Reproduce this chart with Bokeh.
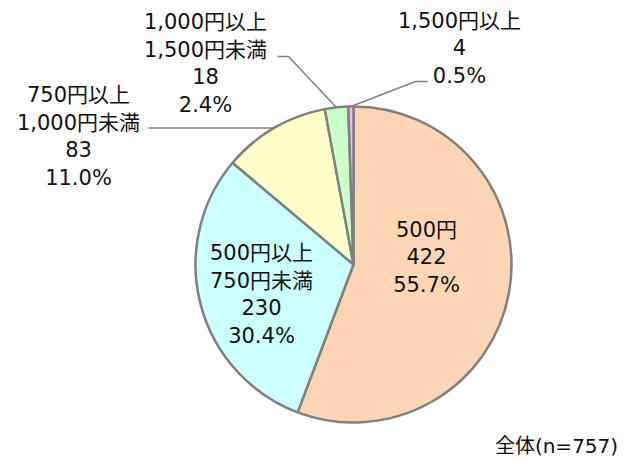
import math
from bokeh.plotting import figure
from bokeh.models import Range1d, ColumnDataSource
from bokeh.core.properties import value
from bokeh.embed import file_html
from bokeh.resources import INLINE

# ---- data ----
categories = ["500円", "500円以上\n750円未満", "750円以上\n1,000円未満",
              "1,000円以上\n1,500円未満", "1,500円以上"]
counts = [422, 230, 83, 18, 4]
colors = ["#FCD5B5", "#CCFFFF", "#FFFFCC", "#CCFFCC", "#F2B8F2"]
total_label = "全体(n=757)"

W, H = 630, 462
FONT = "DejaVu Sans, Noto Sans CJK JP"

p = figure(width=W, height=H, x_range=Range1d(0, W), y_range=Range1d(0, H),
           output_backend="svg", toolbar_location=None, min_border=0)
p.axis.visible = False
p.grid.visible = False
p.outline_line_color = None
p.background_fill_color = "white"

cx, cy, r = 353, 198, 158
total = sum(counts)
starts, ends, mids = [], [], []
acc = 0.0
for c in counts:
    s = math.pi / 2 - acc / total * 2 * math.pi
    acc += c
    e = math.pi / 2 - acc / total * 2 * math.pi
    starts.append(s)
    ends.append(e)
    mids.append((s + e) / 2)

src = ColumnDataSource(dict(start=starts, end=ends, color=colors))
p.wedge(x=cx, y=cy, radius=r, start_angle="start", end_angle="end",
        direction="clock", fill_color="color", line_color="#808080",
        line_width=2.5, source=src)

labels = [f"{cat}\n{n}\n{n / total * 100:.1f}%" for cat, n in zip(categories, counts)]

# label anchor positions (layout)
label_pos = [(426, 205), (261, 168), (78, 326), (205, 399), (459, 414)]
lx = [q[0] for q in label_pos]
ly = [q[1] for q in label_pos]
p.text(x=lx, y=ly, text=labels, text_font=value(FONT), text_font_size="21px",
       text_align="center", text_baseline="middle", text_line_height=1.16,
       text_color="#111111")

# leader lines for outside labels
elbows = {2: [(148, 334)], 3: [(277, 406), (288, 406)], 4: [(427, 381), (415, 381)]}
for i, pts in elbows.items():
    ex = cx + r * math.cos(mids[i])
    ey = cy + r * math.sin(mids[i])
    xs = [q[0] for q in pts] + [ex]
    ys = [q[1] for q in pts] + [ey]
    if i == 2:
        ys[0] = ey
    p.line(xs, ys, line_color="#808080", line_width=1.5)

p.text(x=[556], y=[17], text=[total_label], text_font=value(FONT),
       text_font_size="20px", text_align="center", text_baseline="middle",
       text_color="#111111")

open("out.html", "w").write(file_html(p, INLINE))
